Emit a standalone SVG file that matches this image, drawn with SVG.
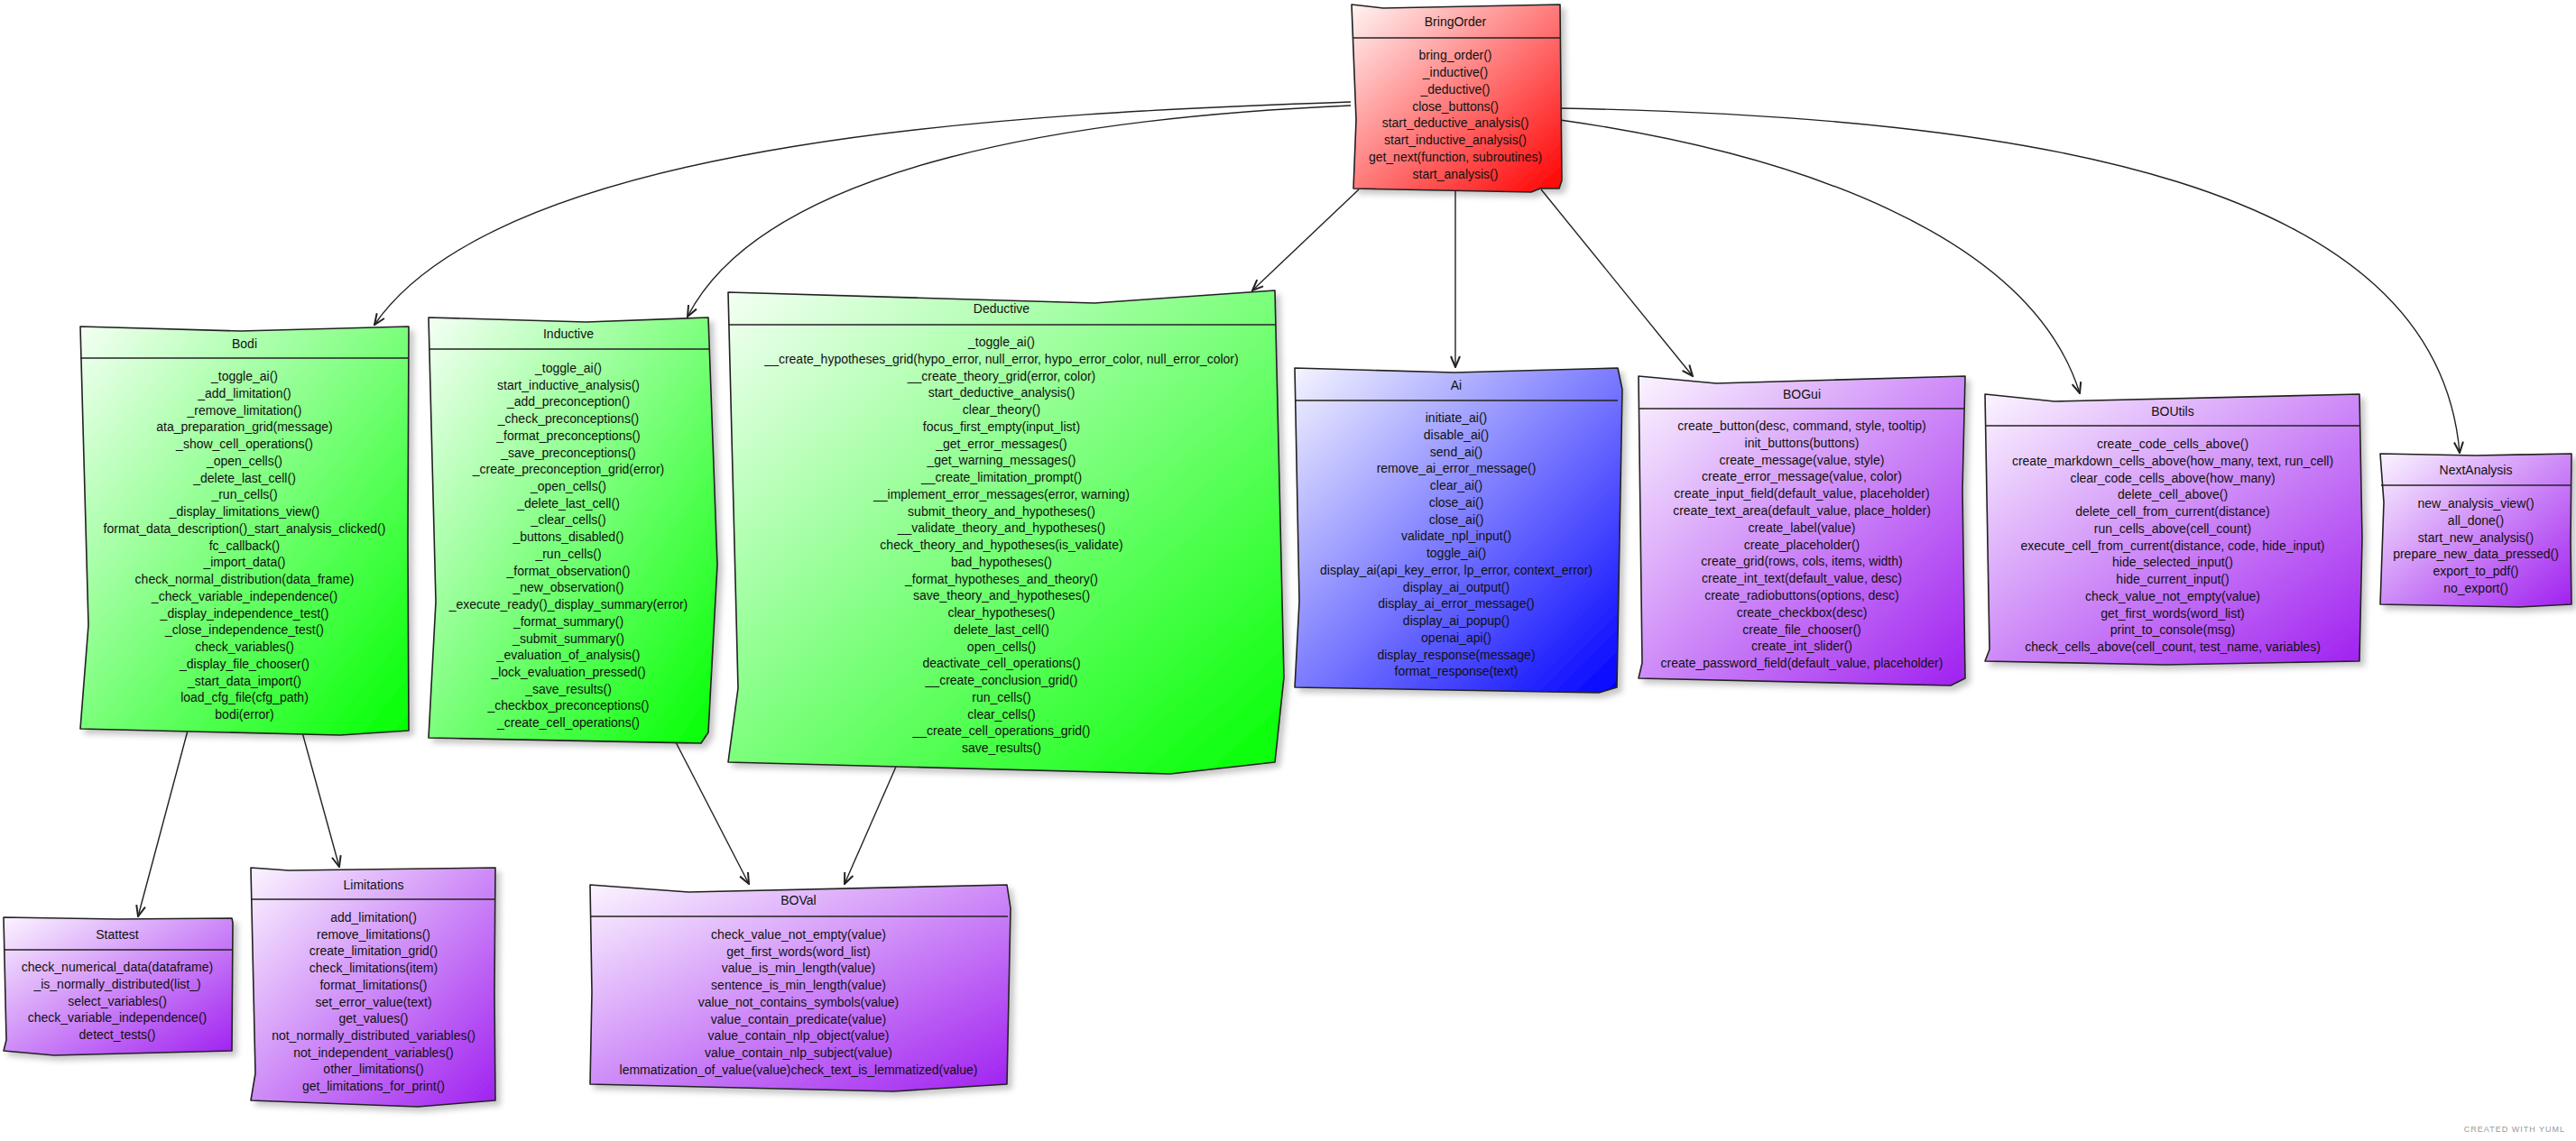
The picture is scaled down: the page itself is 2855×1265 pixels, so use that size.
<svg xmlns="http://www.w3.org/2000/svg" width="2855" height="1265" viewBox="0 0 2855 1265">
<style>
.box{stroke:#222;stroke-width:1.6;stroke-linejoin:round}
.hl{stroke:#222;stroke-width:1.6}
.t{font-family:"Liberation Sans",Arial,sans-serif;font-size:14px;text-anchor:middle;fill:#111}
.c{fill:none;stroke:#222;stroke-width:1.4}
.yuml{font-family:"Liberation Sans",Arial,sans-serif;font-size:9px;fill:#999;letter-spacing:1px;text-anchor:end}
</style>
<defs>
<linearGradient id="gRed" x1="0" y1="0" x2="1" y2="1"><stop offset="0" stop-color="#fff4f4"/><stop offset="1" stop-color="#ff0000"/></linearGradient>
<linearGradient id="gGreen" x1="0" y1="0" x2="1" y2="1"><stop offset="0" stop-color="#f4fff4"/><stop offset="1" stop-color="#00ff00"/></linearGradient>
<linearGradient id="gBlue" x1="0" y1="0" x2="1" y2="1"><stop offset="0" stop-color="#f4f4ff"/><stop offset="1" stop-color="#0000ff"/></linearGradient>
<linearGradient id="gPurple" x1="0" y1="0" x2="1" y2="1"><stop offset="0" stop-color="#fbf4ff"/><stop offset="1" stop-color="#a020f0"/></linearGradient>
<filter id="sh" x="-5%" y="-5%" width="115%" height="115%"><feDropShadow dx="5" dy="5" stdDeviation="3" flood-color="#000" flood-opacity="0.22"/></filter>
<marker id="arr" viewBox="0 0 14 12" refX="13" refY="6" markerWidth="14" markerHeight="12" orient="auto" markerUnits="userSpaceOnUse"><path d="M1,1 L13,6 L1,11" fill="none" stroke="#222" stroke-width="2"/></marker>
</defs>
<rect width="2855" height="1265" fill="#fff"/>

<g id="connectors">
<path class="c" d="M1497,113 C1150,125 560,150 415,360" marker-end="url(#arr)"/>
<path class="c" d="M1497,117 C1200,130 850,180 762,351" marker-end="url(#arr)"/>
<path class="c" d="M1506,210 L1388,322" marker-end="url(#arr)"/>
<path class="c" d="M1613,211 L1613,407" marker-end="url(#arr)"/>
<path class="c" d="M1708,210 L1876,417" marker-end="url(#arr)"/>
<path class="c" d="M1729,133 C1990,170 2250,260 2305,436" marker-end="url(#arr)"/>
<path class="c" d="M1729,120 C2250,130 2700,200 2726,502" marker-end="url(#arr)"/>
<path class="c" d="M208,810 L153,1016" marker-end="url(#arr)"/>
<path class="c" d="M335,812 L376,961" marker-end="url(#arr)"/>
<path class="c" d="M747,819 L830,980" marker-end="url(#arr)"/>
<path class="c" d="M993,850 L936,980" marker-end="url(#arr)"/>
</g>

<g id="BringOrder">
<path class="box" filter="url(#sh)" fill="url(#gRed)" d="M1498,5 L1533,9 L1729,5 L1731,200 L1728,209 L1707,209 L1697,213 L1500,209 L1503,133 Z"/>
<line class="hl" x1="1499" y1="42" x2="1729" y2="42"/>
<text class="t" x="1613" y="29">BringOrder</text>
<text class="t" x="1613" y="66">bring_order()<tspan x="1613" dy="18.85">_inductive()</tspan><tspan x="1613" dy="18.85">_deductive()</tspan><tspan x="1613" dy="18.85">close_buttons()</tspan><tspan x="1613" dy="18.85">start_deductive_analysis()</tspan><tspan x="1613" dy="18.85">start_inductive_analysis()</tspan><tspan x="1613" dy="18.85">get_next(function, subroutines)</tspan><tspan x="1613" dy="18.85">start_analysis()</tspan></text>
</g>

<g id="Bodi">
<path class="box" filter="url(#sh)" fill="url(#gGreen)" d="M89,362 L267,367 L453,362 L452,600 L453,810 L377,815 L89,808 L98,693 Z"/>
<line class="hl" x1="89" y1="397" x2="453" y2="397"/>
<text class="t" x="271" y="386">Bodi</text>
<text class="t" x="271" y="422">_toggle_ai()<tspan x="271" dy="18.75">_add_limitation()</tspan><tspan x="271" dy="18.75">_remove_limitation()</tspan><tspan x="271" dy="18.75">ata_preparation_grid(message)</tspan><tspan x="271" dy="18.75">_show_cell_operations()</tspan><tspan x="271" dy="18.75">_open_cells()</tspan><tspan x="271" dy="18.75">_delete_last_cell()</tspan><tspan x="271" dy="18.75">_run_cells()</tspan><tspan x="271" dy="18.75">_display_limitations_view()</tspan><tspan x="271" dy="18.75">format_data_description()_start_analysis_clicked()</tspan><tspan x="271" dy="18.75">fc_callback()</tspan><tspan x="271" dy="18.75">_import_data()</tspan><tspan x="271" dy="18.75">check_normal_distribution(data_frame)</tspan><tspan x="271" dy="18.75">_check_variable_independence()</tspan><tspan x="271" dy="18.75">_display_independence_test()</tspan><tspan x="271" dy="18.75">_close_independence_test()</tspan><tspan x="271" dy="18.75">check_variables()</tspan><tspan x="271" dy="18.75">_display_file_chooser()</tspan><tspan x="271" dy="18.75">_start_data_import()</tspan><tspan x="271" dy="18.75">load_cfg_file(cfg_path)</tspan><tspan x="271" dy="18.75">bodi(error)</tspan></text>
</g>

<g id="Inductive">
<path class="box" filter="url(#sh)" fill="url(#gGreen)" d="M475,352 L650,357 L785,352 L795,626 L785,812 L777,824 L475,818 L483,667 Z"/>
<line class="hl" x1="475" y1="387" x2="786" y2="387"/>
<text class="t" x="630" y="375">Inductive</text>
<text class="t" x="630" y="413">_toggle_ai()<tspan x="630" dy="18.72">start_inductive_analysis()</tspan><tspan x="630" dy="18.72">_add_preconception()</tspan><tspan x="630" dy="18.72">_check_preconceptions()</tspan><tspan x="630" dy="18.72">_format_preconceptions()</tspan><tspan x="630" dy="18.72">_save_preconceptions()</tspan><tspan x="630" dy="18.72">_create_preconception_grid(error)</tspan><tspan x="630" dy="18.72">_open_cells()</tspan><tspan x="630" dy="18.72">_delete_last_cell()</tspan><tspan x="630" dy="18.72">_clear_cells()</tspan><tspan x="630" dy="18.72">_buttons_disabled()</tspan><tspan x="630" dy="18.72">_run_cells()</tspan><tspan x="630" dy="18.72">_format_observation()</tspan><tspan x="630" dy="18.72">_new_observation()</tspan><tspan x="630" dy="18.72">_execute_ready()_display_summary(error)</tspan><tspan x="630" dy="18.72">_format_summary()</tspan><tspan x="630" dy="18.72">_submit_summary()</tspan><tspan x="630" dy="18.72">_evaluation_of_analysis()</tspan><tspan x="630" dy="18.72">_lock_evaluation_pressed()</tspan><tspan x="630" dy="18.72">_save_results()</tspan><tspan x="630" dy="18.72">_checkbox_preconceptions()</tspan><tspan x="630" dy="18.72">_create_cell_operations()</tspan></text>
</g>

<g id="Deductive">
<path class="box" filter="url(#sh)" fill="url(#gGreen)" d="M807,324 L1213,336 L1413,322 L1423,751 L1413,845 L1297,858 L807,845 L818,763 Z"/>
<line class="hl" x1="807" y1="360" x2="1414" y2="360"/>
<text class="t" x="1110" y="347">Deductive</text>
<text class="t" x="1110" y="384">_toggle_ai()<tspan x="1110" dy="18.75">__create_hypotheses_grid(hypo_error, null_error, hypo_error_color, null_error_color)</tspan><tspan x="1110" dy="18.75">__create_theory_grid(error, color)</tspan><tspan x="1110" dy="18.75">start_deductive_analysis()</tspan><tspan x="1110" dy="18.75">clear_theory()</tspan><tspan x="1110" dy="18.75">focus_first_empty(input_list)</tspan><tspan x="1110" dy="18.75">_get_error_messages()</tspan><tspan x="1110" dy="18.75">_get_warning_messages()</tspan><tspan x="1110" dy="18.75">__create_limitation_prompt()</tspan><tspan x="1110" dy="18.75">__implement_error_messages(error, warning)</tspan><tspan x="1110" dy="18.75">submit_theory_and_hypotheses()</tspan><tspan x="1110" dy="18.75">__validate_theory_and_hypotheses()</tspan><tspan x="1110" dy="18.75">check_theory_and_hypotheses(is_validate)</tspan><tspan x="1110" dy="18.75">bad_hypotheses()</tspan><tspan x="1110" dy="18.75">_format_hypotheses_and_theory()</tspan><tspan x="1110" dy="18.75">save_theory_and_hypotheses()</tspan><tspan x="1110" dy="18.75">clear_hypotheses()</tspan><tspan x="1110" dy="18.75">delete_last_cell()</tspan><tspan x="1110" dy="18.75">open_cells()</tspan><tspan x="1110" dy="18.75">deactivate_cell_operations()</tspan><tspan x="1110" dy="18.75">__create_conclusion_grid()</tspan><tspan x="1110" dy="18.75">run_cells()</tspan><tspan x="1110" dy="18.75">clear_cells()</tspan><tspan x="1110" dy="18.75">__create_cell_operations_grid()</tspan><tspan x="1110" dy="18.75">save_results()</tspan></text>
</g>

<g id="Ai">
<path class="box" filter="url(#sh)" fill="url(#gBlue)" d="M1435,408 L1612,413 L1793,408 L1798,432 L1792,762 L1772,768 L1435,762 L1440,667 Z"/>
<line class="hl" x1="1436" y1="444" x2="1793" y2="444"/>
<text class="t" x="1614" y="432">Ai</text>
<text class="t" x="1614" y="468">initiate_ai()<tspan x="1614" dy="18.75">disable_ai()</tspan><tspan x="1614" dy="18.75">send_ai()</tspan><tspan x="1614" dy="18.75">remove_ai_error_message()</tspan><tspan x="1614" dy="18.75">clear_ai()</tspan><tspan x="1614" dy="18.75">close_ai()</tspan><tspan x="1614" dy="18.75">close_ai()</tspan><tspan x="1614" dy="18.75">validate_npl_input()</tspan><tspan x="1614" dy="18.75">toggle_ai()</tspan><tspan x="1614" dy="18.75">display_ai(api_key_error, lp_error, context_error)</tspan><tspan x="1614" dy="18.75">display_ai_output()</tspan><tspan x="1614" dy="18.75">display_ai_error_message()</tspan><tspan x="1614" dy="18.75">display_ai_popup()</tspan><tspan x="1614" dy="18.75">openai_api()</tspan><tspan x="1614" dy="18.75">display_response(message)</tspan><tspan x="1614" dy="18.75">format_response(text)</tspan></text>
</g>

<g id="BOGui">
<path class="box" filter="url(#sh)" fill="url(#gPurple)" d="M1816,417 L1902,425 L2178,417 L2175,543 L2178,752 L2162,760 L1816,752 L1820,735 Z"/>
<line class="hl" x1="1817" y1="453" x2="2177" y2="453"/>
<text class="t" x="1997" y="442">BOGui</text>
<text class="t" x="1997" y="477">create_button(desc, command, style, tooltip)<tspan x="1997" dy="18.8">init_buttons(buttons)</tspan><tspan x="1997" dy="18.8">create_message(value, style)</tspan><tspan x="1997" dy="18.8">create_error_message(value, color)</tspan><tspan x="1997" dy="18.8">create_input_field(default_value, placeholder)</tspan><tspan x="1997" dy="18.8">create_text_area(default_value, place_holder)</tspan><tspan x="1997" dy="18.8">create_label(value)</tspan><tspan x="1997" dy="18.8">create_placeholder()</tspan><tspan x="1997" dy="18.8">create_grid(rows, cols, items, width)</tspan><tspan x="1997" dy="18.8">create_int_text(default_value, desc)</tspan><tspan x="1997" dy="18.8">create_radiobuttons(options, desc)</tspan><tspan x="1997" dy="18.8">create_checkbox(desc)</tspan><tspan x="1997" dy="18.8">create_file_chooser()</tspan><tspan x="1997" dy="18.8">create_int_slider()</tspan><tspan x="1997" dy="18.8">create_password_field(default_value, placeholder)</tspan></text>
</g>

<g id="BOUtils">
<path class="box" filter="url(#sh)" fill="url(#gPurple)" d="M2200,437 L2277,445 L2615,437 L2618,597 L2615,733 L2400,737 L2200,733 L2205,720 Z"/>
<line class="hl" x1="2201" y1="472" x2="2615" y2="472"/>
<text class="t" x="2408" y="461">BOUtils</text>
<text class="t" x="2408" y="497">create_code_cells_above()<tspan x="2408" dy="18.75">create_markdown_cells_above(how_many, text, run_cell)</tspan><tspan x="2408" dy="18.75">clear_code_cells_above(how_many)</tspan><tspan x="2408" dy="18.75">delete_cell_above()</tspan><tspan x="2408" dy="18.75">delete_cell_from_current(distance)</tspan><tspan x="2408" dy="18.75">run_cells_above(cell_count)</tspan><tspan x="2408" dy="18.75">execute_cell_from_current(distance, code, hide_input)</tspan><tspan x="2408" dy="18.75">hide_selected_input()</tspan><tspan x="2408" dy="18.75">hide_current_input()</tspan><tspan x="2408" dy="18.75">check_value_not_empty(value)</tspan><tspan x="2408" dy="18.75">get_first_words(word_list)</tspan><tspan x="2408" dy="18.75">print_to_console(msg)</tspan><tspan x="2408" dy="18.75">check_cells_above(cell_count, test_name, variables)</tspan></text>
</g>

<g id="NextAnalysis">
<path class="box" filter="url(#sh)" fill="url(#gPurple)" d="M2638,503 L2744,505 L2850,503 L2849,600 L2850,670 L2792,673 L2638,670 L2642,557 Z"/>
<line class="hl" x1="2639" y1="538" x2="2850" y2="538"/>
<text class="t" x="2744" y="526">NextAnalysis</text>
<text class="t" x="2744" y="563">new_analysis_view()<tspan x="2744" dy="18.8">all_done()</tspan><tspan x="2744" dy="18.8">start_new_analysis()</tspan><tspan x="2744" dy="18.8">prepare_new_data_pressed()</tspan><tspan x="2744" dy="18.8">export_to_pdf()</tspan><tspan x="2744" dy="18.8">no_export()</tspan></text>
</g>

<g id="Stattest">
<path class="box" filter="url(#sh)" fill="url(#gPurple)" d="M4,1017 L130,1019 L257,1018 L258,1023 L257,1165 L60,1170 L4,1165 L7,1153 Z"/>
<line class="hl" x1="5" y1="1053" x2="257" y2="1053"/>
<text class="t" x="130" y="1041">Stattest</text>
<text class="t" x="130" y="1077">check_numerical_data(dataframe)<tspan x="130" dy="18.75">_is_normally_distributed(list_)</tspan><tspan x="130" dy="18.75">select_variables()</tspan><tspan x="130" dy="18.75">check_variable_independence()</tspan><tspan x="130" dy="18.75">detect_tests()</tspan></text>
</g>

<g id="Limitations">
<path class="box" filter="url(#sh)" fill="url(#gPurple)" d="M278,962 L320,965 L549,962 L548,1100 L549,1220 L463,1227 L278,1220 L283,1190 Z"/>
<line class="hl" x1="279" y1="997" x2="549" y2="997"/>
<text class="t" x="414" y="986">Limitations</text>
<text class="t" x="414" y="1022">add_limitation()<tspan x="414" dy="18.7">remove_limitations()</tspan><tspan x="414" dy="18.7">create_limitation_grid()</tspan><tspan x="414" dy="18.7">check_limitations(item)</tspan><tspan x="414" dy="18.7">format_limitations()</tspan><tspan x="414" dy="18.7">set_error_value(text)</tspan><tspan x="414" dy="18.7">get_values()</tspan><tspan x="414" dy="18.7">not_normally_distributed_variables()</tspan><tspan x="414" dy="18.7">not_independent_variables()</tspan><tspan x="414" dy="18.7">other_limitations()</tspan><tspan x="414" dy="18.7">get_limitations_for_print()</tspan></text>
</g>

<g id="BOVal">
<path class="box" filter="url(#sh)" fill="url(#gPurple)" d="M654,981 L763,989 L1116,981 L1120,1007 L1116,1202 L990,1210 L654,1202 L656,1100 Z"/>
<line class="hl" x1="655" y1="1016" x2="1117" y2="1016"/>
<text class="t" x="885" y="1003">BOVal</text>
<text class="t" x="885" y="1041">check_value_not_empty(value)<tspan x="885" dy="18.7">get_first_words(word_list)</tspan><tspan x="885" dy="18.7">value_is_min_length(value)</tspan><tspan x="885" dy="18.7">sentence_is_min_length(value)</tspan><tspan x="885" dy="18.7">value_not_contains_symbols(value)</tspan><tspan x="885" dy="18.7">value_contain_predicate(value)</tspan><tspan x="885" dy="18.7">value_contain_nlp_object(value)</tspan><tspan x="885" dy="18.7">value_contain_nlp_subject(value)</tspan><tspan x="885" dy="18.7">lemmatization_of_value(value)check_text_is_lemmatized(value)</tspan></text>
</g>

<text class="yuml" x="2843" y="1255">CREATED WITH YUML</text>
</svg>
